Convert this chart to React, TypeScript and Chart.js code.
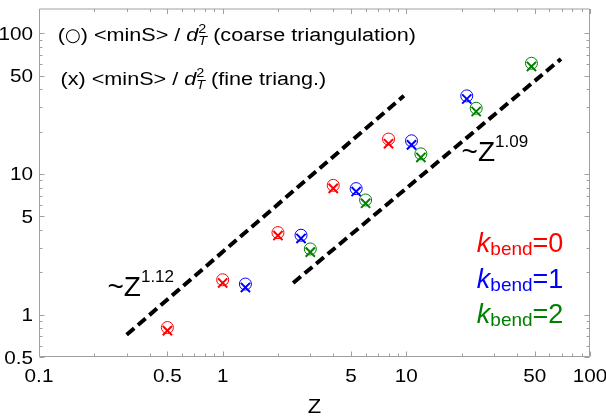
import React, { useEffect, useRef } from 'react';
import { Chart, registerables } from 'chart.js';
Chart.register(...registerables);

const RED = '#ff0000';
const BLUE = '#0000ff';
const GREEN = '#008000';

// data: Z values and <minS>/d_T^2 for each k_bend
const redZ = [0.5, 1, 2, 4, 8];
const redCoarse = [0.81, 1.77, 3.83, 8.3, 17.7];
const redFine = [0.77, 1.68, 3.65, 7.9, 16.4];
const blueZ = [1.33, 2.67, 5.33, 10.67, 21.33];
const blueCoarse = [1.65, 3.67, 7.87, 17.2, 35.9];
const blueFine = [1.56, 3.48, 7.5, 16.1, 34.1];
const greenZ = [3, 6, 12, 24, 48];
const greenCoarse = [2.93, 6.53, 13.9, 29.3, 61.2];
const greenFine = [2.78, 6.19, 13.1, 27.8, 58.1];

// guide lines (end points)
const fit112Z = [0.3, 9.7];
const fit112Y = [0.72, 36];
const fit109Z = [2.42, 69.5];
const fit109Y = [1.68, 65.7];

// ticks
const X_LABELS = [0.1, 0.5, 1, 5, 10, 50, 100];
const Y_LABELS = [0.5, 1, 5, 10, 50, 100];
const X_DECADES = [0.1, 1, 10];
const Y_DECADES = [0.1, 1, 10, 100];
const MINOR_MULT = [2, 3, 4, 5, 6, 7, 8, 9];

const X_MIN = 0.1, X_MAX = 100, Y_MIN = 0.5, Y_MAX = 150;

const FONT = '"Liberation Sans", Arial, Helvetica, sans-serif';
const SX_TICK = 1.15;
const SX_NOTE = 1.2;

type Seg = { t: string; size: number; italic?: boolean; dy?: number; overlay?: boolean; font?: string; unscale?: boolean };

function drawRich(ctx: CanvasRenderingContext2D, x: number, y: number, segs: Seg[], color: string, sx: number, align: 'left' | 'center' | 'right' = 'left') {
  ctx.save();
  ctx.translate(x, y);
  ctx.scale(sx, 1);
  ctx.fillStyle = color;
  ctx.textBaseline = 'alphabetic';
  ctx.textAlign = 'left';
  const fontOf = (s: Seg) => `${s.italic ? 'italic ' : ''}${s.size}px ${s.font || FONT}`;
  const widths = segs.map((s) => {
    ctx.font = fontOf(s);
    const w = ctx.measureText(s.t).width;
    return s.unscale ? w / sx : w;
  });
  let total = 0;
  segs.forEach((s, i) => { if (!s.overlay) total += widths[i]; });
  let cx = align === 'left' ? 0 : align === 'center' ? -total / 2 : -total;
  segs.forEach((s, i) => {
    ctx.font = fontOf(s);
    if (s.unscale) {
      ctx.save();
      ctx.translate(cx, s.dy || 0);
      ctx.scale(1 / sx, 1);
      ctx.fillText(s.t, 0, 0);
      ctx.restore();
    } else {
      ctx.fillText(s.t, cx, s.dy || 0);
    }
    if (!s.overlay) cx += widths[i];
  });
  ctx.restore();
}

const fmt = (v: number) => String(v);

const decorPlugin = {
  id: 'decor',
  afterDraw(chart: any) {
    const { ctx, chartArea: a, scales } = chart;
    const xs = scales.x, ys = scales.y;
    const L = a.left + 0.5, R = a.right - 0.5, T = a.top + 0.5, B = a.bottom - 0.5;
    ctx.save();
    ctx.strokeStyle = '#a0a0a0';
    ctx.lineWidth = 1;
    ctx.beginPath();
    ctx.rect(L, T, R - L, B - T);
    ctx.stroke();

    const xMajors = X_LABELS;
    const xMinors: number[] = [];
    X_DECADES.forEach((d) => MINOR_MULT.forEach((m) => { const v = d * m; if (!xMajors.some((u) => Math.abs(u - v) < 1e-9)) xMinors.push(v); }));
    const yMajors = Y_LABELS;
    const yMinors: number[] = [];
    Y_DECADES.forEach((d) => [1, ...MINOR_MULT].forEach((m) => { const v = d * m; if (v > Y_MIN && v < Y_MAX && !yMajors.some((u) => Math.abs(u - v) < 1e-9)) yMinors.push(v); }));

    ctx.beginPath();
    const xt = (v: number, len: number) => {
      const p = Math.round(xs.getPixelForValue(v)) + 0.5;
      ctx.moveTo(p, B); ctx.lineTo(p, B - len);
      ctx.moveTo(p, T); ctx.lineTo(p, T + len);
    };
    const yt = (v: number, len: number) => {
      const p = Math.round(ys.getPixelForValue(v)) + 0.5;
      ctx.moveTo(L, p); ctx.lineTo(L + len, p);
      ctx.moveTo(R, p); ctx.lineTo(R - len, p);
    };
    xMajors.forEach((v) => xt(v, 5));
    xMinors.forEach((v) => xt(v, 3));
    yMajors.forEach((v) => yt(v, 5));
    yMinors.forEach((v) => yt(v, 3));
    ctx.stroke();

    // tick labels
    const TL = 18;
    X_LABELS.forEach((v) => {
      drawRich(ctx, xs.getPixelForValue(v), a.bottom + 25, [{ t: fmt(v), size: TL }], '#000', SX_TICK, 'center');
    });
    Y_LABELS.forEach((v) => {
      drawRich(ctx, a.left - 6, ys.getPixelForValue(v) + 6.5, [{ t: fmt(v), size: TL }], '#000', SX_TICK, 'right');
    });

    // axis title
    drawRich(ctx, (a.left + a.right) / 2, a.bottom + 56, [{ t: 'Z', size: 20 }], '#000', 1.1, 'center');

    const px = (v: number) => xs.getPixelForValue(v);
    const py = (v: number) => ys.getPixelForValue(v);

    // legend-like notes
    const dT: Seg[] = [
      { t: 'd', size: 18, italic: true },
      { t: '2', size: 12, dy: -8, overlay: true },
      { t: 'T', size: 12, italic: true, dy: 4 },
    ];
    const mid: Seg[] = [{ t: ' <minS> / ', size: 18 }];
    drawRich(ctx, px(0.1266), py(88), [
      { t: '(', size: 18 },
      { t: '\u25CB', size: 18, font: '"DejaVu Sans", sans-serif', dy: -0.5, unscale: true },
      { t: ')', size: 18 },
      ...mid, ...dT, { t: ' (coarse triangulation)', size: 18 },
    ], '#000', SX_NOTE);
    drawRich(ctx, px(0.131), py(42.9), [
      { t: '(x)', size: 18 }, ...mid, ...dT, { t: ' (fine triang.)', size: 18 },
    ], '#000', SX_NOTE);

    // power law notes
    drawRich(ctx, px(0.236), py(1.36), [{ t: '~Z', size: 28 }, { t: '1.12', size: 17, dy: -14 }], '#000', 1);
    drawRich(ctx, px(20.0), py(12.3), [{ t: '~Z', size: 28 }, { t: '1.09', size: 17, dy: -14 }], '#000', 1);

    // k_bend labels
    const kb = (n: string): Seg[] => [
      { t: 'k', size: 27, italic: true },
      { t: 'bend', size: 19, dy: 3 },
      { t: '=' + n, size: 27 },
    ];
    drawRich(ctx, px(24.2), py(2.78), kb('0'), RED, 1);
    drawRich(ctx, px(24.2), py(1.54), kb('1'), BLUE, 1);
    drawRich(ctx, px(24.2), py(0.866), kb('2'), GREEN, 1);
    ctx.restore();
  },
};

const pts = (xs: number[], ys: number[]) => xs.map((x, i) => ({ x, y: ys[i] }));

const circleSet = (xs: number[], ys: number[], color: string) => ({
  data: pts(xs, ys),
  pointStyle: 'circle',
  pointRadius: 6,
  borderWidth: 1,
  borderColor: color,
  backgroundColor: 'rgba(0,0,0,0)',
  showLine: false,
});
const crossSet = (xs: number[], ys: number[], color: string) => ({
  data: pts(xs, ys),
  pointStyle: 'crossRot',
  pointRadius: 6.5,
  borderWidth: 2,
  borderColor: color,
  backgroundColor: color,
  showLine: false,
});
const lineSet = (xs: number[], ys: number[]) => ({
  data: pts(xs, ys),
  showLine: true,
  pointRadius: 0,
  borderColor: '#000',
  borderWidth: 4,
  borderDash: [10, 5],
  borderCapStyle: 'butt',
  fill: false,
});

export default function App() {
  const ref = useRef<HTMLCanvasElement>(null);
  useEffect(() => {
    if (!ref.current) return;
    const chart = new Chart(ref.current, {
      type: 'scatter',
      data: {
        datasets: [
          lineSet(fit112Z, fit112Y),
          lineSet(fit109Z, fit109Y),
          circleSet(redZ, redCoarse, RED),
          crossSet(redZ, redFine, RED),
          circleSet(blueZ, blueCoarse, BLUE),
          crossSet(blueZ, blueFine, BLUE),
          circleSet(greenZ, greenCoarse, GREEN),
          crossSet(greenZ, greenFine, GREEN),
        ] as any,
      },
      options: {
        animation: false,
        responsive: true,
        maintainAspectRatio: false,
        layout: { padding: { left: 0, right: 16, top: 1, bottom: 0 } },
        plugins: { legend: { display: false }, tooltip: { enabled: false } },
        scales: {
          x: {
            type: 'logarithmic', min: X_MIN, max: X_MAX,
            grid: { display: false, drawTicks: false },
            border: { display: false },
            ticks: { display: false },
            afterFit: (s: any) => { s.height = 63; },
          },
          y: {
            type: 'logarithmic', min: Y_MIN, max: Y_MAX,
            grid: { display: false, drawTicks: false },
            border: { display: false },
            ticks: { display: false },
            afterFit: (s: any) => { s.width = 39; },
          },
        },
      } as any,
      plugins: [decorPlugin],
    });
    return () => chart.destroy();
  }, []);
  return (
    <div style={{ position: 'fixed', left: 0, top: 0, width: 606, height: 420, background: '#fff' }}>
      <canvas ref={ref} />
    </div>
  );
}
